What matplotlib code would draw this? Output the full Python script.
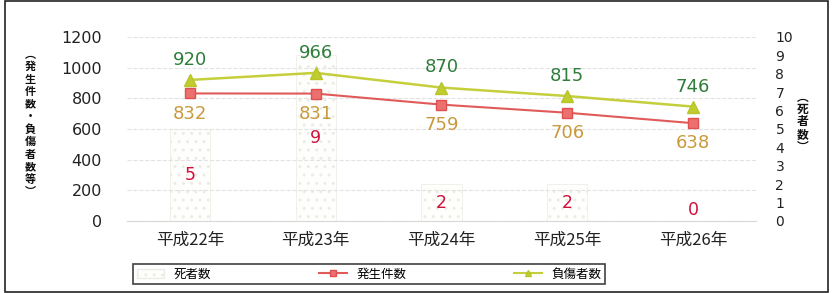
import matplotlib
matplotlib.use("Agg")
import matplotlib.pyplot as plt
from matplotlib.patches import Rectangle, Patch
from matplotlib.lines import Line2D

plt.rcParams['font.family'] = ['Noto Sans CJK JP', 'DejaVu Sans']

categories = ["平成22年", "平成23年", "平成24年", "平成25年", "平成26年"]
deaths = [5, 9, 2, 2, 0]
incidents = [832, 831, 759, 706, 638]
injured = [920, 966, 870, 815, 746]
left_ticks = [0, 200, 400, 600, 800, 1000, 1200]
right_ticks = list(range(0, 11))

fig = plt.figure(figsize=(8.33, 2.93), dpi=100)
ax = fig.add_axes([127/833, 1-221/293, (756-127)/833, (221-37)/293])
ax2 = ax.twinx()
ax.set_zorder(ax2.get_zorder() + 1)
ax.patch.set_visible(False)

x = list(range(len(categories)))
# bars on right axis
ax2.bar(x, deaths, width=0.32, color='#fefefd', edgecolor='#ececE6', hatch='..',
        linewidth=0.5, zorder=1)
for xi, v in zip(x, deaths):
    ax2.text(xi, max(v / 2, 0.6), str(v), ha='center', va='center', fontsize=12.5,
             color='#d0103a', family='DejaVu Sans', zorder=5)
ax2.set_ylim(0, 10)
ax2.set_yticks(right_ticks)
ax2.tick_params(axis='y', length=0, pad=14, labelsize=10, colors='#222222')
for lab in ax2.get_yticklabels():
    lab.set_family('DejaVu Sans')

# lines on left axis
ax.plot(x, incidents, color='#e05a5a', lw=1.5, marker='s', markersize=7,
        markerfacecolor='#ec7070', markeredgecolor='#e05050', zorder=4)
ax.plot(x, injured, color='#c5cf3c', lw=1.8, marker='^', markersize=8,
        markerfacecolor='#c0cc30', markeredgecolor='#b8c428', zorder=4)
for xi, v in zip(x, injured):
    ax.annotate(str(v), (xi, v), xytext=(0, 8), textcoords='offset points',
                ha='center', va='bottom', fontsize=13, color='#2e7d3a',
                family='DejaVu Sans')
for xi, v in zip(x, incidents):
    ax.annotate(str(v), (xi, v), xytext=(0, -8), textcoords='offset points',
                ha='center', va='top', fontsize=13, color='#c89a3c',
                family='DejaVu Sans')

ax.set_ylim(0, 1200)
ax.set_yticks(left_ticks)
ax.set_xlim(-0.5, 4.5)
ax.set_xticks(x)
ax.set_xticklabels(categories, fontsize=12, color='#222222')
ax.tick_params(axis='y', length=0, pad=18, labelsize=11.5, colors='#222222')
ax.tick_params(axis='x', length=0, pad=8)
for lab in ax.get_yticklabels():
    lab.set_family('DejaVu Sans')
ax.grid(axis='y', color='#e2e2e2', lw=0.8, ls='--')
for s in ['top', 'right', 'left']:
    ax.spines[s].set_visible(False)
    ax2.spines[s].set_visible(False)
ax.spines['bottom'].set_color('#d8d8d8')
ax2.spines['bottom'].set_visible(False)

# vertical axis labels
left_label = "︵発生件数・負傷者数等︶"
fig.text(30/833, 1-123/293, "\n".join(left_label), ha='center', va='center',
         fontsize=8, linespacing=0.95, color='#111111', fontweight='bold')
right_label = "︵死者数︶"
fig.text(803/833, 1-122/293, "\n".join(right_label), ha='center', va='center',
         fontsize=8.5, linespacing=0.95, color='#111111', fontweight='bold')

# legend
handles = [Patch(facecolor='#fefefd', edgecolor='#ececE6', hatch='..'),
           Line2D([], [], color='#e05a5a', lw=1.5, marker='s', markersize=5,
                  markerfacecolor='#ec7070', markeredgecolor='#e05050'),
           Line2D([], [], color='#c5cf3c', lw=1.5, marker='^', markersize=5,
                  markerfacecolor='#c0cc30', markeredgecolor='#b8c428')]
labels = ["死者数", "発生件数", "負傷者数"]
leg = fig.legend(handles, labels, ncol=3, loc='center',
                 bbox_to_anchor=(369/833, 1-274/293), fontsize=9,
                 frameon=True, fancybox=False, edgecolor='#111111',
                 columnspacing=8.6, handlelength=2.2, borderpad=0.3,
                 borderaxespad=0)
leg.get_frame().set_linewidth(1.2)

# figure border
fig.add_artist(Rectangle((5/833, 0.005), 1 - 10/833, 0.99, transform=fig.transFigure,
                         fill=False, edgecolor='#222222', lw=1.2))

fig.savefig("out.png", dpi=100)
